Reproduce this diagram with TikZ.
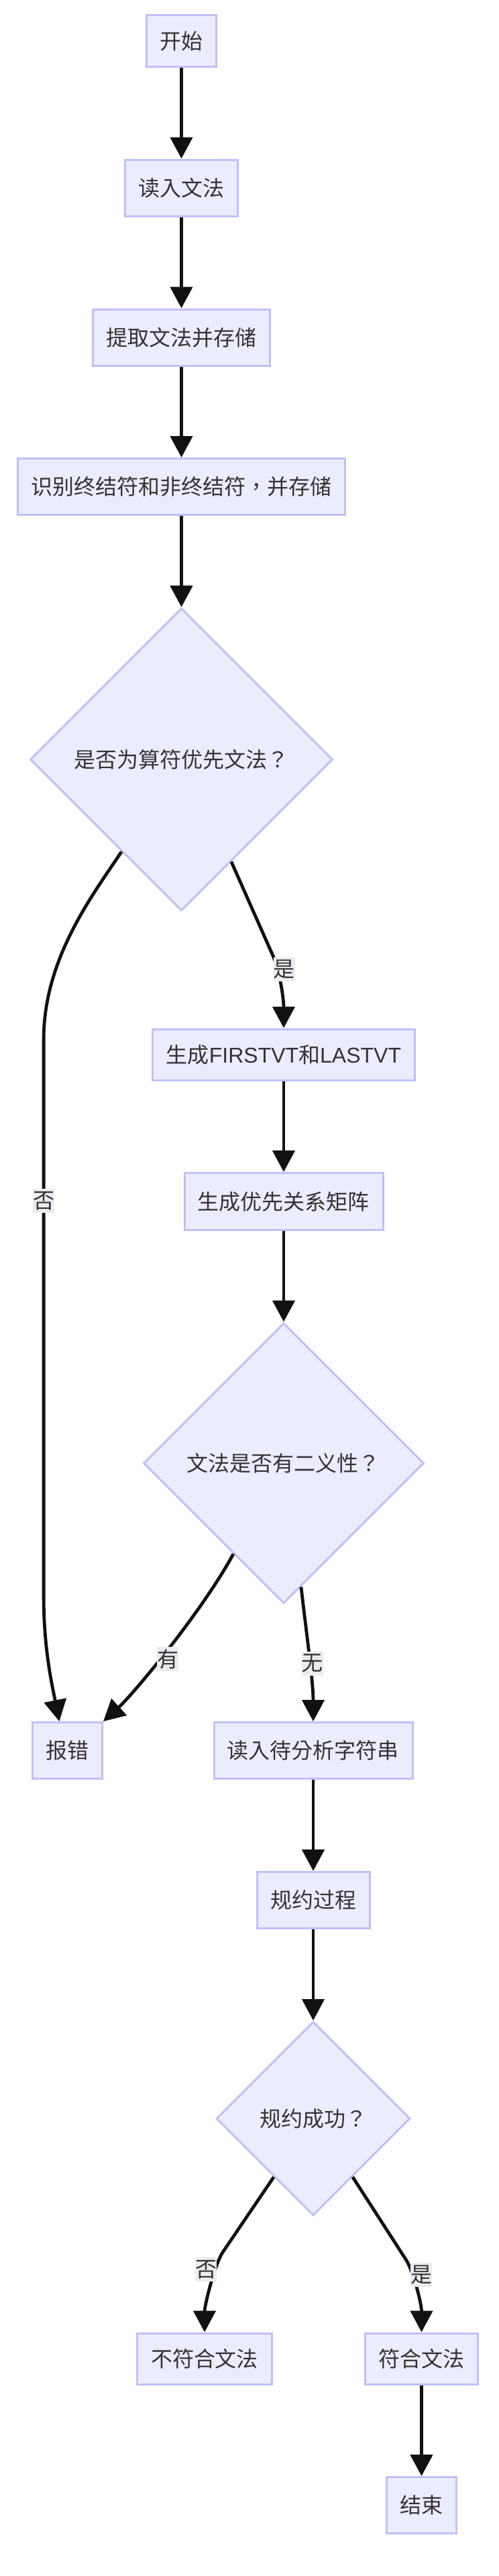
\documentclass[tikz,border=0pt]{standalone}
\usepackage{fontspec}
\setmainfont{Liberation Sans}
\newfontfamily\cjk{Noto Sans CJK TC}
\usetikzlibrary{shapes,arrows.meta,positioning,calc}
\definecolor{nodefill}{HTML}{ECECFF}
\definecolor{nodeline}{HTML}{C0C0F8}
\definecolor{labelfill}{HTML}{EBEBF0}
\definecolor{textgray}{HTML}{333333}
\definecolor{edgeblack}{HTML}{111111}
\tikzset{
    block/.style={rectangle, draw=nodeline, fill=nodefill, text=textgray, inner xsep=10pt, minimum height=42pt, font=\cjk\fontsize{16pt}{19pt}\selectfont, line width=1.5pt},
    decision/.style={diamond, draw=nodeline, fill=nodefill, text=textgray, aspect=1, inner sep=0pt, font=\cjk\fontsize{16pt}{19pt}\selectfont, line width=1.5pt},
    line/.style={draw=edgeblack, -{Triangle[width=16.5pt,length=16pt]}, line width=2.4pt},
    edgelabel/.style={fill=labelfill, text=textgray, inner sep=0pt, minimum width=16pt, minimum height=18pt, font=\cjk\fontsize{16pt}{19pt}\selectfont}
}
\begin{document}
\begin{tikzpicture}[node distance=109.5pt]
    \useasboundingbox (-135.25pt,30.5pt) rectangle (236.75pt,-1889.5pt);
    \node [block, minimum height=38.5pt] (start) {开始};
    \node [block, below of=start] (readgram) {读入文法};
    \node [block, below of=readgram, node distance=111.5pt] (extract) {提取文法并存储};
    \node [block, below of=extract, node distance=111.25pt] (symbols) {识别终结符和非终结符，并存储};
    \node [decision, below of=symbols, node distance=203.25pt, minimum size=225.5pt] (isopg) {是否为算符优先文法？};
    \node [block, below of=isopg, node distance=220pt, xshift=76.25pt, minimum height=38pt] (firstvt) {生成{\rmfamily FIRSTVT}和{\rmfamily LASTVT}};
    \node [block, below of=firstvt, minimum height=42.5pt] (precmat) {生成优先关系矩阵};
    \node [decision, below of=precmat, node distance=195pt, minimum size=209pt] (ambig) {文法是否有二义性？};
    \node [block, below of=ambig, node distance=214.25pt, xshift=22pt] (readstr) {读入待分析字符串};
    \node [block, left of=readstr, node distance=183.25pt] (error) {报错};
    \node [block, below of=readstr, node distance=111.5pt] (reduce) {规约过程};
    \node [decision, below of=reduce, node distance=162.75pt, minimum size=144.5pt] (success) {规约成功？};
    \node [block, below of=success, node distance=179pt, xshift=-81pt, minimum height=38pt] (reject) {不符合文法};
    \node [block, below of=success, node distance=179pt, xshift=80.75pt, minimum height=38pt] (accept) {符合文法};
    \node [block, below of=accept, node distance=109.25pt] (finish) {结束};

    \path [line] (start) -- (readgram);
    \path [line] (readgram) -- (extract);
    \path [line] (extract) -- (symbols);
    \path [line] (symbols) -- (isopg);
    \path [line] (isopg.-64) -- ++(31pt,-70pt) .. controls +(5pt,-11pt) and +(0,22pt) .. (firstvt.north) node [edgelabel, pos=0.25, xshift=5pt] {是};
    \path [line] (isopg.-123) .. controls +(-22pt,-33pt) and +(0,60pt) .. ++(-58pt,-140pt) -- ++(0,-415pt) node [edgelabel, pos=0.29] {否} .. controls +(0,-40pt) and +(-5pt,25pt) .. ([xshift=-6pt]error.north);
    \path [line] (firstvt) -- (precmat);
    \path [line] (precmat) -- (ambig);
    \path [line] (ambig.-119) .. controls +(-24pt,-44pt) and +(22pt,20pt) .. (error.north east) node [edgelabel, pos=0.55, xshift=6pt] {有};
    \path [line] (ambig.-82) .. controls +(4pt,-35pt) and +(0,30pt) .. (readstr.north) node [edgelabel, pos=0.55, xshift=2pt] {无};
    \path [line] (readstr) -- (reduce);
    \path [line] (reduce) -- (success);
    \path [line] (success.-124) -- ++(-38pt,-56pt) .. controls +(-6pt,-9pt) and +(0,20pt) .. (reject.north) node [edgelabel, pos=0.3, xshift=-7pt] {否};
    \path [line] (success.-56) -- ++(40pt,-62pt) .. controls +(5pt,-8pt) and +(0,22pt) .. (accept.north) node [edgelabel, pos=0.3, xshift=6.5pt] {是};
    \path [line] (accept) -- (finish);
\end{tikzpicture}
\end{document}
